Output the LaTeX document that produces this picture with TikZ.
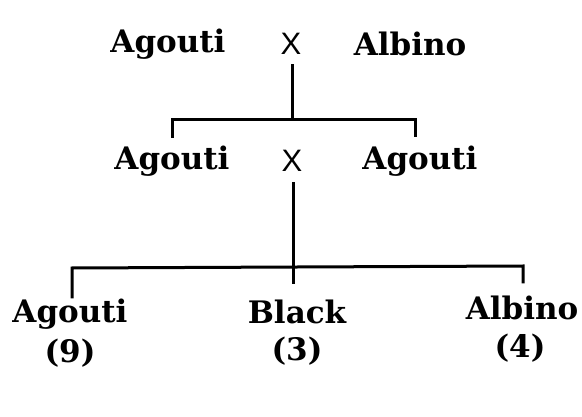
\documentclass[tikz,border=0pt]{standalone}
\usepackage{fontspec}
\newfontfamily\lblfont{DejaVu Serif}[BoldFont={DejaVu Serif Bold}]
\newfontfamily\crossfont{Liberation Sans}
\begin{document}
\begin{tikzpicture}[x=1pt,y=-1pt,
  lbl/.style={inner sep=0pt,font=\lblfont\bfseries\fontsize{31}{34}\selectfont},
  cross/.style={inner sep=0pt,font=\crossfont\fontsize{31}{34}\selectfont},
  wire/.style={line width=3pt,line cap=rect}]
\useasboundingbox (0,0) rectangle (582,417);
% generation 1
\node[lbl] (p1) at (168,44) {Agouti};
\node[cross] (x1) at (291,44) {X};
\node[lbl] (p2) at (410,44) {Albino};
% generation 2
\node[lbl] (f1) at (172,161) {Agouti};
\node[cross] (x2) at (292,161) {X};
\node[lbl] (f2) at (420,161) {Agouti};
% generation 3
\node[lbl] (c1) at (70,314) {Agouti};
\node[lbl] (c2) at (297,312) {Black};
\node[lbl] (c3) at (522,308) {Albino};
\node[lbl] (n1) at (70,353) {(9)};
\node[lbl] (n2) at (297,351) {(3)};
\node[lbl] (n3) at (520,348) {(4)};
% connector 1
\coordinate (t1) at (292,66);
\coordinate (j1) at (292,120);
\coordinate (l1) at (172,120);
\coordinate (r1) at (415,120);
\coordinate (l1b) at (172,137);
\coordinate (r1b) at (415,136);
\draw[wire] (t1) -- (j1);
\draw[wire] (l1b) -- (l1) -- (r1) -- (r1b);
% connector 2
\coordinate (t2) at (293,184);
\coordinate (j2) at (293,283);
\coordinate (l2) at (72,268);
\coordinate (r2) at (523,266);
\coordinate (l2b) at (72,297);
\coordinate (r2b) at (523,282);
\draw[wire] (t2) -- (j2);
\draw[wire] (l2b) -- (l2) -- (r2) -- (r2b);
\end{tikzpicture}
\end{document}
